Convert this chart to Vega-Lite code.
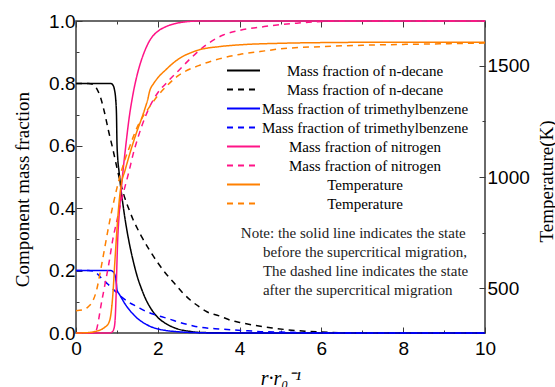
{
  "$schema": "https://vega.github.io/schema/vega-lite/v6.json",
  "width": 409,
  "height": 312,
  "autosize": {"type": "none"},
  "padding": {"left": 76, "top": 21, "right": 70, "bottom": 54},
  "background": "white",
  "config": {
    "view": {"stroke": "#3a3a3a", "strokeWidth": 1.5},
    "axis": {
      "domain": false, "grid": false,
      "labelFont": "Liberation Sans", "labelFontSize": 19, "labelColor": "#000",
      "tickColor": "#3a3a3a", "tickWidth": 1,
      "titleFont": "Liberation Serif", "titleFontSize": 19, "titleFontWeight": "normal", "titleColor": "#000",
      "labelOverlap": false, "labelFlush": false
    },
    "legend": {
      "orient": "none", "legendX": 150, "legendY": 40,
      "symbolType": "stroke", "symbolSize": 1089, "symbolStrokeWidth": 2,
      "clipHeight": 19, "rowPadding": 0, "padding": 0,
      "labelAlign": "center", "labelOffset": 104, "labelFontSize": 15, "labelColor": "#000", "labelLimit": 400,
      "labelFont": "Liberation Serif"
    }
  },
  "layer": [
    {
      "data": {"values": [
        {"s":"ds","x":0,"y":0.8},{"s":"ds","x":0.5,"y":0.8},{"s":"ds","x":0.85,"y":0.8},{"s":"ds","x":0.9,"y":0.795},{"s":"ds","x":0.94,"y":0.78},{"s":"ds","x":0.97,"y":0.75},{"s":"ds","x":0.99,"y":0.7},{"s":"ds","x":1.0,"y":0.62},{"s":"ds","x":1.02,"y":0.56},{"s":"ds","x":1.05,"y":0.52},{"s":"ds","x":1.1,"y":0.46},{"s":"ds","x":1.15,"y":0.41},{"s":"ds","x":1.2,"y":0.365},{"s":"ds","x":1.3,"y":0.29},{"s":"ds","x":1.4,"y":0.23},{"s":"ds","x":1.5,"y":0.18},{"s":"ds","x":1.6,"y":0.142},{"s":"ds","x":1.7,"y":0.11},{"s":"ds","x":1.8,"y":0.085},{"s":"ds","x":2.0,"y":0.05},{"s":"ds","x":2.2,"y":0.03},{"s":"ds","x":2.4,"y":0.017},{"s":"ds","x":2.6,"y":0.009},{"s":"ds","x":2.8,"y":0.005},{"s":"ds","x":3.0,"y":0.002},{"s":"ds","x":3.5,"y":0.0005},{"s":"ds","x":4,"y":0},{"s":"ds","x":10,"y":0},
        {"s":"dd","x":0,"y":0.8},{"s":"dd","x":0.3,"y":0.8},{"s":"dd","x":0.45,"y":0.795},{"s":"dd","x":0.5,"y":0.785},{"s":"dd","x":0.6,"y":0.755},{"s":"dd","x":0.7,"y":0.705},{"s":"dd","x":0.8,"y":0.645},{"s":"dd","x":0.9,"y":0.59},{"s":"dd","x":1.0,"y":0.53},{"s":"dd","x":1.1,"y":0.475},{"s":"dd","x":1.2,"y":0.43},{"s":"dd","x":1.3,"y":0.395},{"s":"dd","x":1.4,"y":0.362},{"s":"dd","x":1.5,"y":0.335},{"s":"dd","x":1.6,"y":0.31},{"s":"dd","x":1.8,"y":0.265},{"s":"dd","x":2.0,"y":0.225},{"s":"dd","x":2.2,"y":0.19},{"s":"dd","x":2.4,"y":0.16},{"s":"dd","x":2.6,"y":0.13},{"s":"dd","x":2.8,"y":0.105},{"s":"dd","x":3.0,"y":0.085},{"s":"dd","x":3.2,"y":0.068},{"s":"dd","x":3.5,"y":0.055},{"s":"dd","x":3.8,"y":0.04},{"s":"dd","x":4.0,"y":0.034},{"s":"dd","x":4.4,"y":0.024},{"s":"dd","x":4.8,"y":0.016},{"s":"dd","x":5.2,"y":0.01},{"s":"dd","x":5.6,"y":0.006},{"s":"dd","x":6.0,"y":0.003},{"s":"dd","x":7,"y":0},{"s":"dd","x":10,"y":0},
        {"s":"bs","x":0,"y":0.2},{"s":"bs","x":0.5,"y":0.2},{"s":"bs","x":0.85,"y":0.2},{"s":"bs","x":0.9,"y":0.197},{"s":"bs","x":0.94,"y":0.19},{"s":"bs","x":0.97,"y":0.175},{"s":"bs","x":0.99,"y":0.155},{"s":"bs","x":1.0,"y":0.14},{"s":"bs","x":1.02,"y":0.132},{"s":"bs","x":1.05,"y":0.126},{"s":"bs","x":1.1,"y":0.115},{"s":"bs","x":1.2,"y":0.093},{"s":"bs","x":1.3,"y":0.075},{"s":"bs","x":1.4,"y":0.06},{"s":"bs","x":1.5,"y":0.047},{"s":"bs","x":1.6,"y":0.037},{"s":"bs","x":1.7,"y":0.029},{"s":"bs","x":1.8,"y":0.022},{"s":"bs","x":2.0,"y":0.013},{"s":"bs","x":2.2,"y":0.008},{"s":"bs","x":2.4,"y":0.005},{"s":"bs","x":2.6,"y":0.003},{"s":"bs","x":3.0,"y":0.001},{"s":"bs","x":3.5,"y":0},{"s":"bs","x":10,"y":0},
        {"s":"bd","x":0,"y":0.2},{"s":"bd","x":0.3,"y":0.2},{"s":"bd","x":0.45,"y":0.198},{"s":"bd","x":0.55,"y":0.186},{"s":"bd","x":0.65,"y":0.172},{"s":"bd","x":0.75,"y":0.16},{"s":"bd","x":0.85,"y":0.148},{"s":"bd","x":0.95,"y":0.135},{"s":"bd","x":1.05,"y":0.123},{"s":"bd","x":1.15,"y":0.112},{"s":"bd","x":1.3,"y":0.098},{"s":"bd","x":1.5,"y":0.084},{"s":"bd","x":1.7,"y":0.07},{"s":"bd","x":1.9,"y":0.06},{"s":"bd","x":2.1,"y":0.052},{"s":"bd","x":2.3,"y":0.044},{"s":"bd","x":2.5,"y":0.035},{"s":"bd","x":2.8,"y":0.025},{"s":"bd","x":3.0,"y":0.019},{"s":"bd","x":3.4,"y":0.014},{"s":"bd","x":3.8,"y":0.01},{"s":"bd","x":4.2,"y":0.007},{"s":"bd","x":4.6,"y":0.004},{"s":"bd","x":5.0,"y":0.003},{"s":"bd","x":5.5,"y":0.001},{"s":"bd","x":6,"y":0},{"s":"bd","x":10,"y":0},
        {"s":"ns","x":0,"y":0},{"s":"ns","x":0.8,"y":0},{"s":"ns","x":0.88,"y":0.003},{"s":"ns","x":0.93,"y":0.015},{"s":"ns","x":0.96,"y":0.05},{"s":"ns","x":0.98,"y":0.12},{"s":"ns","x":1.0,"y":0.22},{"s":"ns","x":1.02,"y":0.3},{"s":"ns","x":1.05,"y":0.37},{"s":"ns","x":1.1,"y":0.45},{"s":"ns","x":1.15,"y":0.52},{"s":"ns","x":1.2,"y":0.58},{"s":"ns","x":1.3,"y":0.69},{"s":"ns","x":1.4,"y":0.77},{"s":"ns","x":1.5,"y":0.83},{"s":"ns","x":1.6,"y":0.875},{"s":"ns","x":1.7,"y":0.91},{"s":"ns","x":1.8,"y":0.937},{"s":"ns","x":1.9,"y":0.955},{"s":"ns","x":2.0,"y":0.967},{"s":"ns","x":2.2,"y":0.982},{"s":"ns","x":2.4,"y":0.991},{"s":"ns","x":2.6,"y":0.996},{"s":"ns","x":2.8,"y":0.999},{"s":"ns","x":3.0,"y":1.0},{"s":"ns","x":10,"y":1.0},
        {"s":"nd","x":0,"y":0},{"s":"nd","x":0.45,"y":0},{"s":"nd","x":0.5,"y":0.01},{"s":"nd","x":0.55,"y":0.04},{"s":"nd","x":0.6,"y":0.08},{"s":"nd","x":0.7,"y":0.15},{"s":"nd","x":0.8,"y":0.22},{"s":"nd","x":0.9,"y":0.3},{"s":"nd","x":1.0,"y":0.36},{"s":"nd","x":1.1,"y":0.42},{"s":"nd","x":1.2,"y":0.47},{"s":"nd","x":1.3,"y":0.52},{"s":"nd","x":1.4,"y":0.575},{"s":"nd","x":1.5,"y":0.62},{"s":"nd","x":1.6,"y":0.66},{"s":"nd","x":1.7,"y":0.695},{"s":"nd","x":1.8,"y":0.725},{"s":"nd","x":2.0,"y":0.77},{"s":"nd","x":2.2,"y":0.8},{"s":"nd","x":2.5,"y":0.84},{"s":"nd","x":2.8,"y":0.88},{"s":"nd","x":3.2,"y":0.925},{"s":"nd","x":3.6,"y":0.955},{"s":"nd","x":4.0,"y":0.97},{"s":"nd","x":4.6,"y":0.982},{"s":"nd","x":5.4,"y":0.993},{"s":"nd","x":6.5,"y":1.0},{"s":"nd","x":10,"y":1.0}
      ]},
      "mark": {"type": "line", "strokeWidth": 1.5, "interpolate": "monotone"},
      "encoding": {
        "x": {"field": "x", "type": "quantitative", "scale": {"domain": [0, 10], "nice": false},
          "axis": {"orient": "bottom", "values": [0,1,2,3,4,5,6,7,8,9,10], "format": "d",
            "labelExpr": "datum.value % 2 === 0 ? datum.label : ''",
            "tickSize": {"condition": {"test": "datum.value % 2 === 0", "value": -6}, "value": -3},
            "labelPadding": 12,
            "title": "r·r₀⁻¹", "titleFontStyle": "italic", "titleFontSize": 20, "titleY": 51, "titleBaseline": "alphabetic"}},
        "y": {"field": "y", "type": "quantitative", "scale": {"domain": [0, 1], "nice": false},
          "axis": {"orient": "left", "values": [0,0.1,0.2,0.3,0.4,0.5,0.6,0.7,0.8,0.9,1.0], "format": ".1f",
            "labelExpr": "round(datum.value*10) % 2 === 0 ? datum.label : ''",
            "tickSize": {"condition": {"test": "round(datum.value*10) % 2 === 0", "value": -6}, "value": -3},
            "labelPadding": 7,
            "title": "Component mass fraction", "titleX": -48, "titleY": 168, "titleBaseline": "alphabetic", "titleAngle": -90}},
        "color": {"field": "s", "type": "nominal",
          "scale": {"domain": ["ds","dd","bs","bd","ns","nd","ts","td"], "range": ["#000000","#000000","#0000ff","#0000ff","#ff1487","#ff1487","#ff8000","#ff8000"]},
          "legend": {"title": null, "labelExpr": "['Mass fraction of n-decane','Mass fraction of n-decane','Mass fraction of trimethylbenzene','Mass fraction of trimethylbenzene','Mass fraction of nitrogen','Mass fraction of nitrogen','Temperature','Temperature'][indexof(['ds','dd','bs','bd','ns','nd','ts','td'], datum.value)]"}},
        "strokeDash": {"field": "s", "type": "nominal",
          "scale": {"domain": ["ds","dd","bs","bd","ns","nd","ts","td"], "range": [[1,0],[6,5],[1,0],[6,5],[1,0],[6,5],[1,0],[6,5]]},
          "legend": {"title": null, "labelExpr": "['Mass fraction of n-decane','Mass fraction of n-decane','Mass fraction of trimethylbenzene','Mass fraction of trimethylbenzene','Mass fraction of nitrogen','Mass fraction of nitrogen','Temperature','Temperature'][indexof(['ds','dd','bs','bd','ns','nd','ts','td'], datum.value)]"}}
      }
    },
    {
      "data": {"values": [
        {"s":"ts","x":0,"t":300},{"s":"ts","x":0.3,"t":302},{"s":"ts","x":0.5,"t":308},{"s":"ts","x":0.6,"t":314},{"s":"ts","x":0.7,"t":325},{"s":"ts","x":0.8,"t":345},{"s":"ts","x":0.85,"t":380},{"s":"ts","x":0.9,"t":470},{"s":"ts","x":0.95,"t":620},{"s":"ts","x":1.0,"t":760},{"s":"ts","x":1.05,"t":880},{"s":"ts","x":1.1,"t":960},{"s":"ts","x":1.2,"t":1030},{"s":"ts","x":1.3,"t":1095},{"s":"ts","x":1.4,"t":1155},{"s":"ts","x":1.5,"t":1210},{"s":"ts","x":1.6,"t":1260},{"s":"ts","x":1.7,"t":1315},{"s":"ts","x":1.75,"t":1345},{"s":"ts","x":1.8,"t":1385},{"s":"ts","x":1.9,"t":1420},{"s":"ts","x":2.0,"t":1445},{"s":"ts","x":2.2,"t":1482},{"s":"ts","x":2.4,"t":1515},{"s":"ts","x":2.6,"t":1540},{"s":"ts","x":2.8,"t":1557},{"s":"ts","x":3.0,"t":1570},{"s":"ts","x":3.5,"t":1585},{"s":"ts","x":4.0,"t":1593},{"s":"ts","x":5.0,"t":1600},{"s":"ts","x":6.0,"t":1603},{"s":"ts","x":8.0,"t":1605},{"s":"ts","x":10,"t":1605},
        {"s":"td","x":0,"t":400},{"s":"td","x":0.2,"t":405},{"s":"td","x":0.3,"t":418},{"s":"td","x":0.4,"t":440},{"s":"td","x":0.5,"t":490},{"s":"td","x":0.6,"t":580},{"s":"td","x":0.7,"t":680},{"s":"td","x":0.8,"t":780},{"s":"td","x":0.9,"t":870},{"s":"td","x":1.0,"t":950},{"s":"td","x":1.1,"t":1020},{"s":"td","x":1.2,"t":1080},{"s":"td","x":1.3,"t":1130},{"s":"td","x":1.4,"t":1180},{"s":"td","x":1.5,"t":1225},{"s":"td","x":1.6,"t":1260},{"s":"td","x":1.8,"t":1315},{"s":"td","x":2.0,"t":1365},{"s":"td","x":2.2,"t":1405},{"s":"td","x":2.5,"t":1455},{"s":"td","x":3.0,"t":1500},{"s":"td","x":3.5,"t":1530},{"s":"td","x":4.0,"t":1550},{"s":"td","x":4.5,"t":1563},{"s":"td","x":5.0,"t":1575},{"s":"td","x":6.0,"t":1585},{"s":"td","x":7.0,"t":1591},{"s":"td","x":8.0,"t":1595},{"s":"td","x":9.0,"t":1598},{"s":"td","x":10,"t":1601}
      ]},
      "mark": {"type": "line", "strokeWidth": 1.5, "interpolate": "monotone"},
      "encoding": {
        "x": {"field": "x", "type": "quantitative", "axis": null},
        "y": {"field": "t", "type": "quantitative", "scale": {"domain": [300, 1700], "nice": false},
          "axis": {"orient": "right", "values": [500,750,1000,1250,1500], "format": "d",
            "labelExpr": "datum.value % 500 === 0 ? datum.label : ''",
            "tickSize": {"condition": {"test": "datum.value % 500 === 0", "value": -6}, "value": -3},
            "labelPadding": 8,
            "title": "Temperature(K)", "titleAngle": -90, "titleX": 67, "titleY": 160, "titleBaseline": "alphabetic"}},
        "color": {"field": "s", "type": "nominal",
          "scale": {"domain": ["ds","dd","bs","bd","ns","nd","ts","td"], "range": ["#000000","#000000","#0000ff","#0000ff","#ff1487","#ff1487","#ff8000","#ff8000"]},
          "legend": {"title": null, "labelExpr": "['Mass fraction of n-decane','Mass fraction of n-decane','Mass fraction of trimethylbenzene','Mass fraction of trimethylbenzene','Mass fraction of nitrogen','Mass fraction of nitrogen','Temperature','Temperature'][indexof(['ds','dd','bs','bd','ns','nd','ts','td'], datum.value)]"}},
        "strokeDash": {"field": "s", "type": "nominal",
          "scale": {"domain": ["ds","dd","bs","bd","ns","nd","ts","td"], "range": [[1,0],[6,5],[1,0],[6,5],[1,0],[6,5],[1,0],[6,5]]},
          "legend": {"title": null, "labelExpr": "['Mass fraction of n-decane','Mass fraction of n-decane','Mass fraction of trimethylbenzene','Mass fraction of trimethylbenzene','Mass fraction of nitrogen','Mass fraction of nitrogen','Temperature','Temperature'][indexof(['ds','dd','bs','bd','ns','nd','ts','td'], datum.value)]"}}
      }
    },
    {
      "data": {"values": [
        {"x": 4.03, "y": 0.304, "note": "Note: the solid line indicates the state"},
        {"x": 4.57, "y": 0.243, "note": ["before the supercritical migration,", "The dashed line indicates the state", "after the supercritical migration"]}
      ]},
      "mark": {"type": "text", "font": "Liberation Serif", "fontSize": 15, "align": "left", "baseline": "alphabetic", "lineHeight": 19, "color": "#222"},
      "encoding": {
        "x": {"field": "x", "type": "quantitative",
          "axis": {"orient": "top", "values": [0,1,2,3,4,5,6,7,8,9,10], "labels": false, "title": null,
            "tickSize": {"condition": {"test": "datum.value % 2 === 0", "value": -6}, "value": -3}}},
        "y": {"field": "y", "type": "quantitative", "scale": {"domain": [0, 1], "nice": false}, "axis": null},
        "text": {"field": "note"}
      }
    }
  ],
  "resolve": {
    "scale": {"y": "independent"},
    "axis": {"x": "independent", "y": "independent"}
  }
}
